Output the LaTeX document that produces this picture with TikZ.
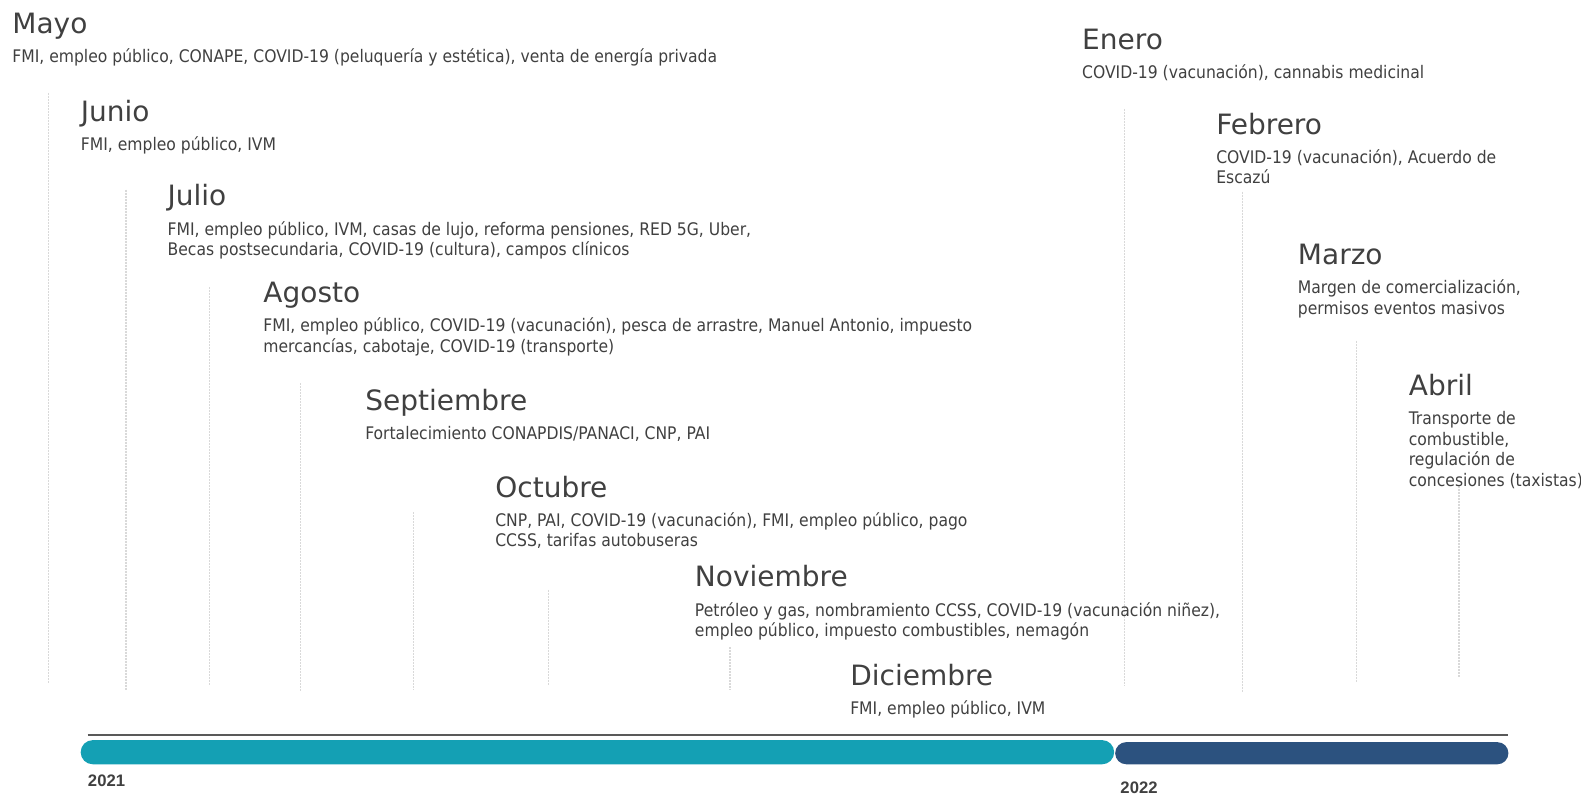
\documentclass[tikz,border=0pt]{standalone}
\usepackage{fontspec}
\setmainfont{DejaVu Sans Condensed}
\newfontfamily\mesfont{DejaVu Sans}
\setsansfont{Liberation Sans}
\usetikzlibrary{positioning}
\definecolor{txtgris}{HTML}{404040}
\definecolor{turq}{HTML}{14A0B4}
\definecolor{marino}{HTML}{2C527F}
% topic lines, baseline on the first line
\newcommand{\lineas}[1]{\begin{tabular}[t]{@{}l@{}}#1\end{tabular}}

\begin{document}
\begin{tikzpicture}[x=0.7562pt, y=-0.7562pt,
			mes/.style = {anchor=base west, inner sep=0pt, text=txtgris,
				font=\mesfont\fontsize{21}{25}\selectfont},
			txt/.style = {anchor=base west, inner sep=0pt, text=txtgris,
				font=\fontsize{13}{15.4}\selectfont},
			guia/.style = {draw=gray!30, dash pattern=on 1.5pt off 0.75pt, line width=0.9pt},
			anio/.style = {anchor=base west, inner sep=0pt, text=txtgris,
				font=\sffamily\bfseries\fontsize{12.5}{14}\selectfont},
			]
		\useasboundingbox (0,0) rectangle (1568,788);
		
		% dotted guides under each month
		\foreach \x/\a/\b in {48/92/678, 125/188/684, 208/285/680, 298/380/686,
			410/508/684, 544/585/680, 724/642/684, 1115/108/680,
			1232/190/686, 1345/338/676, 1447/482/672}
		\draw[guia] (\x,\a) -- (\x,\b);
		
		% months: name / x / baseline / topics
		\foreach \n/\m/\x/\y/\t in {
			mayo/Mayo/12/33/{FMI, empleo público, CONAPE, COVID-19 (peluquería y estética), venta de energía privada},
			junio/Junio/80/120/{FMI, empleo público, IVM},
			julio/Julio/166/204/{FMI, empleo público, IVM, casas de lujo, reforma pensiones, RED 5G, Uber,\\Becas postsecundaria, COVID-19 (cultura), campos clínicos},
			agosto/Agosto/261/300/{FMI, empleo público, COVID-19 (vacunación), pesca de arrastre, Manuel Antonio, impuesto\\mercancías, cabotaje, COVID-19 (transporte)},
			sept/Septiembre/362/407/{Fortalecimiento CONAPDIS/PANACI, CNP, PAI},
			oct/Octubre/491/493/{CNP, PAI, COVID-19 (vacunación), FMI, empleo público, pago\\CCSS, tarifas autobuseras},
			nov/Noviembre/689/582/{Petróleo y gas, nombramiento CCSS, COVID-19 (vacunación niñez),\\empleo público, impuesto combustibles, nemagón},
			dic/Diciembre/843/680/{FMI, empleo público, IVM},
			ene/Enero/1073/49/{COVID-19 (vacunación), cannabis medicinal},
			feb/Febrero/1206/133/{COVID-19 (vacunación), Acuerdo de\\Escazú},
			mar/Marzo/1287/262/{Margen de comercialización,\\permisos eventos masivos},
			abr/Abril/1397/392/{Transporte de\\combustible,\\regulación de\\concesiones (taxistas)}}
		{
			\node[mes] (\n) at (\x,\y) {\m};
			\node[txt] (\n-t) at ([yshift=-22pt]\n.base west) {\lineas{\t}};
		}
		
		% time bar
		\draw[gray!70!black, line width=1.1pt] (87,729) -- (1496,729);
		\fill[turq, rounded corners=12*0.7562pt] (80,734) rectangle (1105,758);
		\fill[marino, rounded corners=11*0.7562pt] (1106,736) rectangle (1496,758);
		\node[anio] (y21) at (87,780) {2021};
		\node[anio] (y22) at (1111,787) {2022};
		
\end{tikzpicture}
\end{document}
